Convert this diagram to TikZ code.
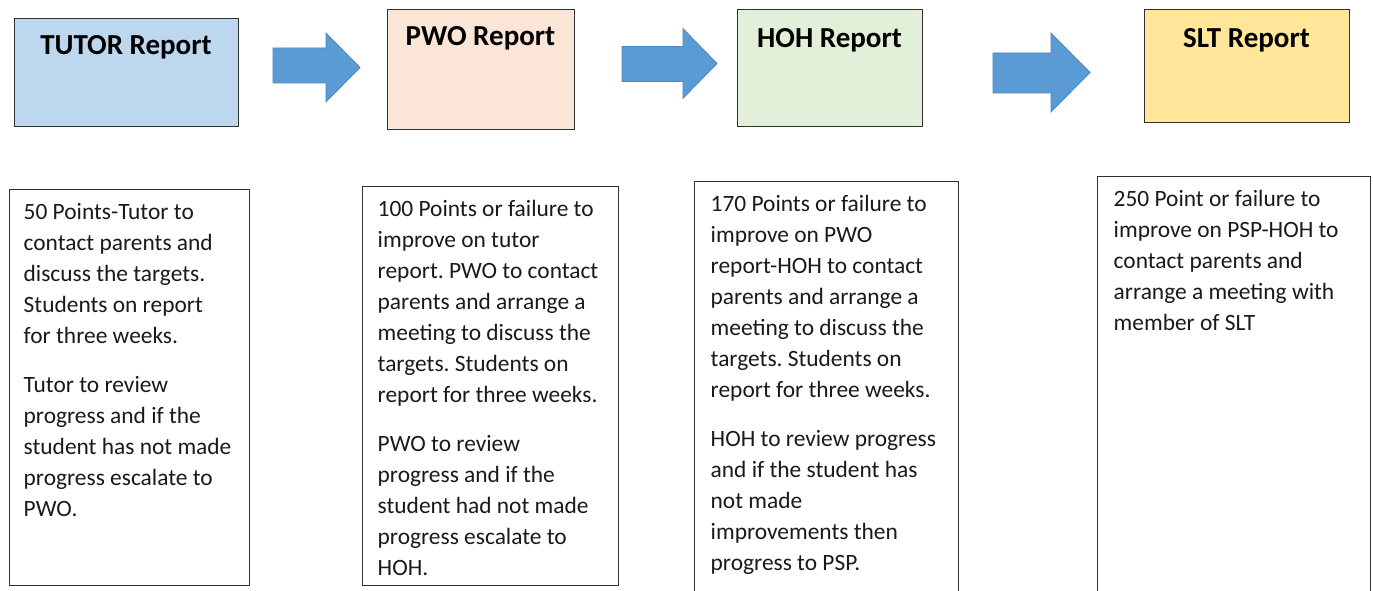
\documentclass[tikz,border=0pt]{standalone}
\usepackage{fontspec}
\setmainfont{Carlito}
\frenchspacing
\definecolor{tutorfill}{HTML}{BDD7EE}
\definecolor{pwofill}{HTML}{FBE5D6}
\definecolor{hohfill}{HTML}{E2F0D9}
\definecolor{sltfill}{HTML}{FFE699}
\definecolor{arrowblue}{HTML}{5B9BD5}
\definecolor{arrowedge}{HTML}{4A86C2}
\definecolor{edgegray}{HTML}{303030}
\definecolor{inkgray}{HTML}{1A1A1A}
\tikzset{
  topbox/.style={draw=edgegray, line width=1.2pt, inner sep=0pt, anchor=north west},
  boxtitle/.style={font=\fontsize{29}{34}\selectfont\bfseries, anchor=base, inner sep=0pt, text=black},
  notebox/.style={draw=edgegray, line width=1.1pt, anchor=north west, inner sep=0pt, fill=white},
  notetext/.style={font=\fontsize{23.4}{31}\selectfont\frenchspacing, align=left, anchor=north west, inner sep=0pt, text=inkgray},
  blockarrow/.style={fill=arrowblue, draw=arrowedge, line width=0.7pt, line join=miter}
}
\begin{document}
\begin{tikzpicture}[x=1pt,y=-1pt]
\useasboundingbox (0,0) rectangle (1373,591);
\clip (0,0) rectangle (1373,591);

% top report boxes
\node[topbox, fill=tutorfill, minimum width=224pt, minimum height=108pt] (tutor) at (14,18) {};
\node[topbox, fill=pwofill, minimum width=187pt, minimum height=120pt] (pwo) at (387,9) {};
\node[topbox, fill=hohfill, minimum width=185pt, minimum height=117pt] (hoh) at (737,9) {};
\node[topbox, fill=sltfill, minimum width=205pt, minimum height=113pt] (slt) at (1144,9) {};

\node[boxtitle] (tutortitle) at (126,54.5) {TUTOR Report};
\node[boxtitle] (pwotitle) at (480.5,45.5) {PWO Report};
\node[boxtitle] (hohtitle) at (829.5,47.5) {HOH Report};
\node[boxtitle] (slttitle) at (1246.5,47.5) {SLT Report};

% block arrows
\draw[blockarrow] (273,48) -- (326,48) -- (326,33) -- (360,67.5) -- (326,102) -- (326,83) -- (273,83) -- cycle;
\draw[blockarrow] (622,46.5) -- (683,46.5) -- (683,28.5) -- (717,63.5) -- (683,98.5) -- (683,81.5) -- (622,81.5) -- cycle;
\draw[blockarrow] (993,53) -- (1051,53) -- (1051,33) -- (1090,72.5) -- (1051,112) -- (1051,93) -- (993,93) -- cycle;

% note boxes
\node[notebox, minimum width=240.5pt, minimum height=396.5pt] (note1) at (8.5,188.5) {};
\node[notebox, minimum width=256pt, minimum height=399pt] (note2) at (361.5,186) {};
\node[notebox, minimum width=264pt, minimum height=430pt] (note3) at (694,181) {};
\node[notebox, minimum width=273pt, minimum height=440pt] (note4) at (1097,176) {};

% strut height = 0.7*31 = 21.7pt above the first baseline
\node[notetext] (text1) at (23.5,197.6) {\strut 50 Points-Tutor to\\contact parents and\\discuss the targets.\\Students on report\\for three weeks.\\[18pt]Tutor to review\\progress and if the\\student has not made\\progress escalate to\\PWO.};
\node[notetext] (text2) at (377.5,194.8) {\strut 100 Points or failure to\\improve on tutor\\report. PWO to contact\\parents and arrange a\\meeting to discuss the\\targets. Students on\\report for three weeks.\\[18pt]PWO to review\\progress and if the\\student had not made\\progress escalate to\\HOH.};
\node[notetext] (text3) at (710.5,189.8) {\strut 170 Points or failure to\\improve on PWO\\report-HOH to contact\\parents and arrange a\\meeting to discuss the\\targets. Students on\\report for three weeks.\\[18pt]HOH to review progress\\and if the student has\\not made\\improvements then\\progress to PSP.};
\node[notetext] (text4) at (1113.5,184.8) {\strut 250 Point or failure to\\improve on PSP-HOH to\\contact parents and\\arrange a meeting with\\member of SLT};
\end{tikzpicture}
\end{document}
